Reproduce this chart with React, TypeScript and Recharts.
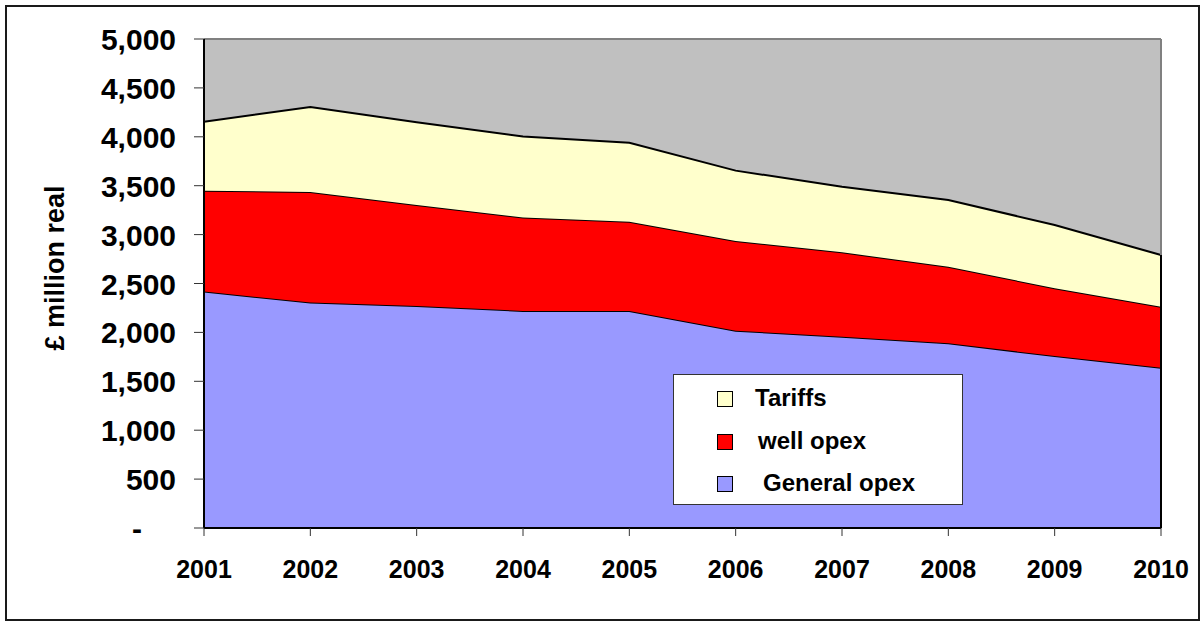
import React from 'react';
import { AreaChart, Area, XAxis, YAxis, CartesianGrid, ReferenceLine } from 'recharts';

// £ million real, stacked: General opex (bottom), well opex, Tariffs (top)
const years = ['2001', '2002', '2003', '2004', '2005', '2006', '2007', '2008', '2009', '2010'];
const generalOpex = [2417, 2305, 2270, 2220, 2219, 2018, 1956, 1888, 1759, 1639];
const wellOpex = [1032, 1131, 1033, 955, 913, 916, 863, 784, 692, 624];
const tariffs = [706, 869, 845, 828, 808, 720, 671, 682, 647, 528];
const yTicks = [0, 500, 1000, 1500, 2000, 2500, 3000, 3500, 4000, 4500, 5000];

const legendItems = [
  { name: 'Tariffs', color: '#FFFFCC', textX: 81 },
  { name: 'well opex', color: '#FF0000', textX: 84 },
  { name: 'General opex', color: '#9999FF', textX: 89 },
];

const FONT = '"Liberation Sans", Arial, sans-serif';

const rows = years.map((year, i) => ({
  year,
  general: generalOpex[i],
  well: wellOpex[i],
  tariffs: tariffs[i],
}));

const lastTop = generalOpex[9] + wellOpex[9] + tariffs[9];

function YTick(props: any) {
  const { x, y, payload } = props;
  const v = payload.value as number;
  const zero = v === 0;
  return (
    <text x={zero ? x - 34 : x} y={y} dy={11} textAnchor="end"
          fontSize={30} fontWeight="bold" fill="#000" fontFamily={FONT}>
      {zero ? '-' : v.toLocaleString('en-US')}
    </text>
  );
}

function LegendBox() {
  return (
    <div style={{ position: 'absolute', left: 673, top: 374, width: 288, height: 129, background: '#fff',
                  border: '1px solid #333', fontFamily: FONT }}>
      {legendItems.map((it, i) => (
        <div key={it.name}>
          <div style={{ position: 'absolute', left: 43, top: 16 + i * 42.5, width: 14, height: 14,
                        background: it.color, border: '1px solid #000' }} />
          <div style={{ position: 'absolute', left: it.textX, top: 8 + i * 42.5, fontSize: 24,
                        fontWeight: 'bold', lineHeight: '30px', color: '#000', whiteSpace: 'nowrap' }}>
            {it.name}
          </div>
        </div>
      ))}
    </div>
  );
}

export default function App() {
  return (
    <div style={{ position: 'fixed', left: 0, top: 0, width: 1203, height: 621, background: '#fff' }}>
      <div style={{ position: 'absolute', left: 5, top: 5, width: 1191, height: 612,
                    border: '2px solid #1a1a1a' }} />
      <div style={{ position: 'absolute', left: 0, top: 0 }}>
        <AreaChart width={1203} height={621} data={rows}
                   margin={{ top: 39, right: 42, bottom: 0, left: 0 }}>
          <CartesianGrid fill="#C0C0C0" horizontal={false} vertical={false} />
          <XAxis dataKey="year" height={93} tickSize={8} tickMargin={24}
                 axisLine={{ stroke: '#000', strokeWidth: 2 }} tickLine={{ stroke: '#333' }}
                 tick={{ fontSize: 25, fontWeight: 'bold', fill: '#000', fontFamily: FONT }}
                 interval={0} />
          <YAxis width={204} domain={[0, 5000]} ticks={yTicks} tickSize={10} tickMargin={18}
                 axisLine={{ stroke: '#000', strokeWidth: 2 }} tickLine={{ stroke: '#333' }}
                 tick={<YTick />} interval={0} />
          <ReferenceLine y={5000} stroke="#808080" strokeWidth={2} />
          <ReferenceLine x="2010" stroke="#808080" strokeWidth={2} />
          <Area type="linear" dataKey="general" name="General opex" stackId="1"
                fill="#9999FF" fillOpacity={1} stroke="#000" strokeWidth={2} isAnimationActive={false} />
          <Area type="linear" dataKey="well" name="well opex" stackId="1"
                fill="#FF0000" fillOpacity={1} stroke="#000" strokeWidth={2} isAnimationActive={false} />
          <Area type="linear" dataKey="tariffs" name="Tariffs" stackId="1"
                fill="#FFFFCC" fillOpacity={1} stroke="#000" strokeWidth={2} isAnimationActive={false} />
          <ReferenceLine segment={[{ x: '2010', y: 0 }, { x: '2010', y: lastTop }]}
                         stroke="#000" strokeWidth={2} />
        </AreaChart>
      </div>
      <LegendBox />
      <div style={{ position: 'absolute', left: 55, top: 268, transform: 'translate(-50%, -50%) rotate(-90deg)',
                    fontFamily: FONT, fontWeight: 'bold', fontSize: 27, color: '#000', whiteSpace: 'nowrap' }}>
        £ million real
      </div>
    </div>
  );
}
